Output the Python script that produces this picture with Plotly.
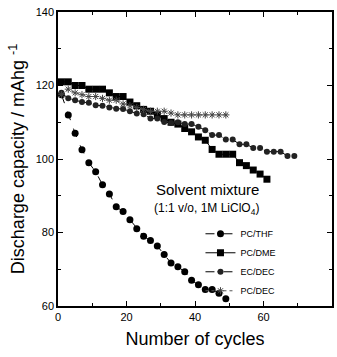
import plotly.graph_objects as go

cycles_thf = [1, 3, 5, 7, 9, 11, 13, 15, 17, 19, 21, 23, 25, 27, 29, 31, 33, 35, 37, 39, 41, 43, 45, 47, 49]
cap_thf = [117.5, 112, 107, 102.5, 99, 96.5, 93, 90.5, 87, 85.7, 83.5, 81, 79, 77.8, 76.3, 74, 71.7, 70.7, 69.3, 67, 65.8, 64.5, 64.5, 63.5, 62]

cycles_dme = [1, 3, 5, 7, 9, 11, 13, 15, 17, 19, 21, 23, 25, 27, 29, 31, 33, 35, 37, 39, 41, 43, 45, 47, 49, 51, 53, 55, 57, 59, 61]
cap_dme = [121, 121, 120, 120, 119, 119, 119, 118, 117, 117, 115.5, 114.5, 113.5, 113, 112, 111, 110, 109.5, 108.3, 107.4, 106, 105.1, 102.6, 101.3, 101.3, 101.3, 99, 98.2, 97, 95.9, 94.5]

cycles_ec = [1, 3, 5, 7, 9, 11, 13, 15, 17, 19, 21, 23, 25, 27, 29, 31, 33, 35, 37, 39, 41, 43, 45, 47, 49, 51, 53, 55, 57, 59, 61, 63, 65, 67, 69]
cap_ec = [118, 116.5, 116, 115.5, 115.3, 114.6, 114.5, 114, 113.7, 113.6, 113, 112.4, 112.2, 111, 111, 110.1, 109.8, 110, 109.5, 109.5, 108.8, 107.8, 106.5, 106.5, 105.3, 105.3, 104, 104, 103, 103, 102, 102, 102, 100.8, 100.8]

cycles_pcdec = [1, 3, 5, 7, 9, 11, 13, 15, 17, 19, 21, 23, 25, 27, 29, 31, 33, 35, 37, 39, 41, 43, 45, 47, 49]
cap_pcdec = [117.5, 119, 118, 117.5, 117, 117, 116.5, 116, 116, 115, 114.5, 114, 113.5, 113, 113, 113, 112.5, 112, 112, 112, 112, 112, 112, 112, 112]

FONT = "Liberation Sans, Arial"

fig = go.Figure()
fig.add_trace(go.Scatter(x=cycles_thf, y=cap_thf, name="PC/THF", mode="lines+markers",
                         line=dict(color="black", width=1, dash="dash"),
                         marker=dict(symbol="circle", size=7, color="black")))
fig.add_trace(go.Scatter(x=cycles_dme, y=cap_dme, name="PC/DME", mode="lines+markers",
                         line=dict(color="black", width=1),
                         marker=dict(symbol="square", size=7, color="black")))
fig.add_trace(go.Scatter(x=cycles_ec, y=cap_ec, name="EC/DEC", mode="lines+markers",
                         line=dict(color="black", width=1, dash="dashdot"),
                         marker=dict(symbol="circle", size=6, color="#222")))
fig.add_trace(go.Scatter(x=cycles_pcdec, y=cap_pcdec, name="PC/DEC", mode="lines+markers",
                         line=dict(color="#555", width=1, dash="dot"),
                         marker=dict(symbol="asterisk-open", size=6, color="#444", line=dict(width=1, color="#444"))))

axis_common = dict(showline=True, linecolor="black", linewidth=1.5, mirror="ticks",
                   ticks="inside", ticklen=5, tickwidth=1, tickcolor="black",
                   showgrid=False, zeroline=False, automargin=False,
                   tickfont=dict(family=FONT, size=11, color="black"),
                   minor=dict(ticks="inside", ticklen=3, tickcolor="black", dtick=10))

fig.update_xaxes(range=[0, 80], dtick=20, **axis_common,
                 title=dict(text="Number of cycles", font=dict(family=FONT, size=18, color="black"), standoff=10))
fig.update_yaxes(range=[60, 140], dtick=20, **axis_common,
                 title=dict(text="Discharge capacity / mAhg <sup>-1</sup>", font=dict(family=FONT, size=18, color="black"), standoff=6))

fig.add_annotation(x=0.74, y=0.395, xref="paper", yref="paper", text="Solvent mixture", showarrow=False,
                   font=dict(family=FONT, size=15, color="black"))
fig.add_annotation(x=0.74, y=0.295, xref="paper", yref="paper", text="(1:1 v/o, 1M LiClO<sub>4</sub>)", showarrow=False,
                   font=dict(family=FONT, size=12, color="black"))

fig.update_layout(width=337, height=357, margin=dict(l=58, r=5, t=12, b=51),
                  plot_bgcolor="white", paper_bgcolor="white",
                  legend=dict(x=0.52, y=0.295, xanchor="left", yanchor="top", bgcolor="rgba(0,0,0,0)",
                              font=dict(family=FONT, size=9, color="black"),
                              itemwidth=30, tracegroupgap=0))
fig.write_html("out.html")
